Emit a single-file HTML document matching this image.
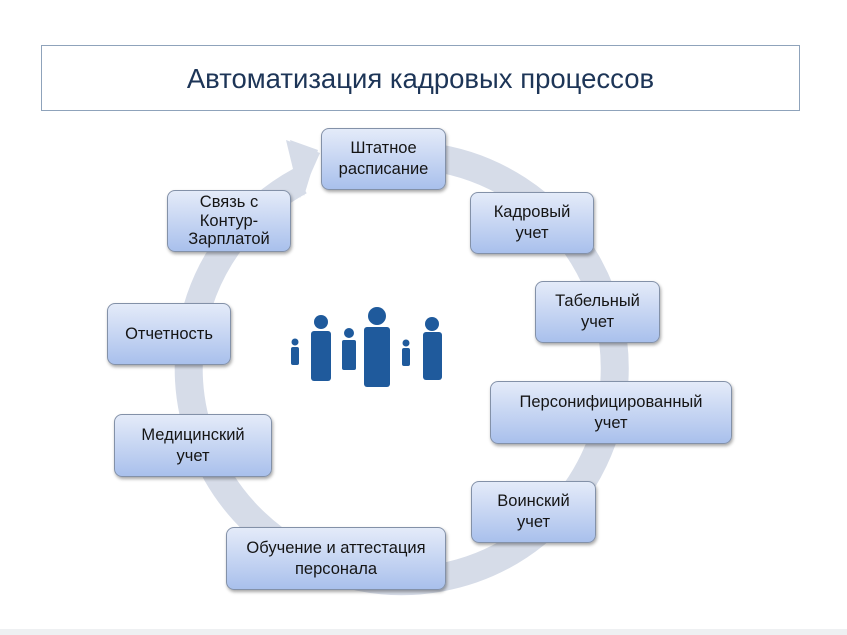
<!DOCTYPE html>
<html><head><meta charset="utf-8"><style>
body{margin:0;width:847px;height:635px;background:#fff;position:relative;overflow:hidden;font-family:"Liberation Sans","DejaVu Sans",sans-serif}
.t{position:absolute;left:41px;top:45px;width:757px;height:64px;border:1px solid #8fa3bb;text-align:center;line-height:66px;font-size:27.5px;color:#1d3557}
.b{position:absolute;box-sizing:border-box;border:1px solid #8391a8;border-radius:8px;background:linear-gradient(#e4ebf9,#a9c0ec);box-shadow:1px 2px 3px rgba(0,0,0,.35);display:flex;align-items:center;justify-content:center;text-align:center;font-size:16.5px;line-height:21px;color:#151515}
.bot{position:absolute;left:0;top:629px;width:847px;height:6px;background:#eef0f2}
</style></head><body>
<svg width="847" height="635" style="position:absolute;left:0;top:0">
<path d="M 430 157 A 213 213 0 1 1 300 181" fill="none" stroke="#d6dce8" stroke-width="28"/>
<polygon points="318,150 290,140 304,196" fill="#d6dce8"/>
<polygon points="286,140 320,153 300,198" fill="#d6dce8"/>
<g fill="#1f5a9c">
<circle cx="295" cy="342" r="3.5"/><rect x="291" y="347" width="8" height="18" rx="2"/>
<circle cx="321" cy="322" r="7"/><rect x="311" y="331" width="20" height="50" rx="3"/>
<circle cx="349" cy="333" r="5"/><rect x="342" y="340" width="14" height="30" rx="2"/>
<circle cx="377" cy="316" r="9"/><rect x="364" y="327" width="26" height="60" rx="3"/>
<circle cx="406" cy="343" r="3.5"/><rect x="402" y="348" width="8" height="18" rx="2"/>
<circle cx="432" cy="324" r="7"/><rect x="423" y="332" width="19" height="48" rx="3"/>
</g>
</svg>
<div class="t">Автоматизация кадровых процессов</div>
<div class="b" style="left:321px;top:128px;width:125px;height:62px">Штатное<br>расписание</div>
<div class="b" style="left:470px;top:192px;width:124px;height:62px">Кадровый<br>учет</div>
<div class="b" style="left:535px;top:281px;width:125px;height:62px">Табельный<br>учет</div>
<div class="b" style="left:490px;top:381px;width:242px;height:63px">Персонифицированный<br>учет</div>
<div class="b" style="left:471px;top:481px;width:125px;height:62px">Воинский<br>учет</div>
<div class="b" style="left:226px;top:527px;width:220px;height:63px">Обучение и аттестация<br>персонала</div>
<div class="b" style="left:114px;top:414px;width:158px;height:63px">Медицинский<br>учет</div>
<div class="b" style="left:107px;top:303px;width:124px;height:62px">Отчетность</div>
<div class="b" style="left:167px;top:190px;width:124px;height:62px;line-height:18.5px">Связь с<br>Контур-<br>Зарплатой</div>
<div class="bot"></div>
</body></html>
